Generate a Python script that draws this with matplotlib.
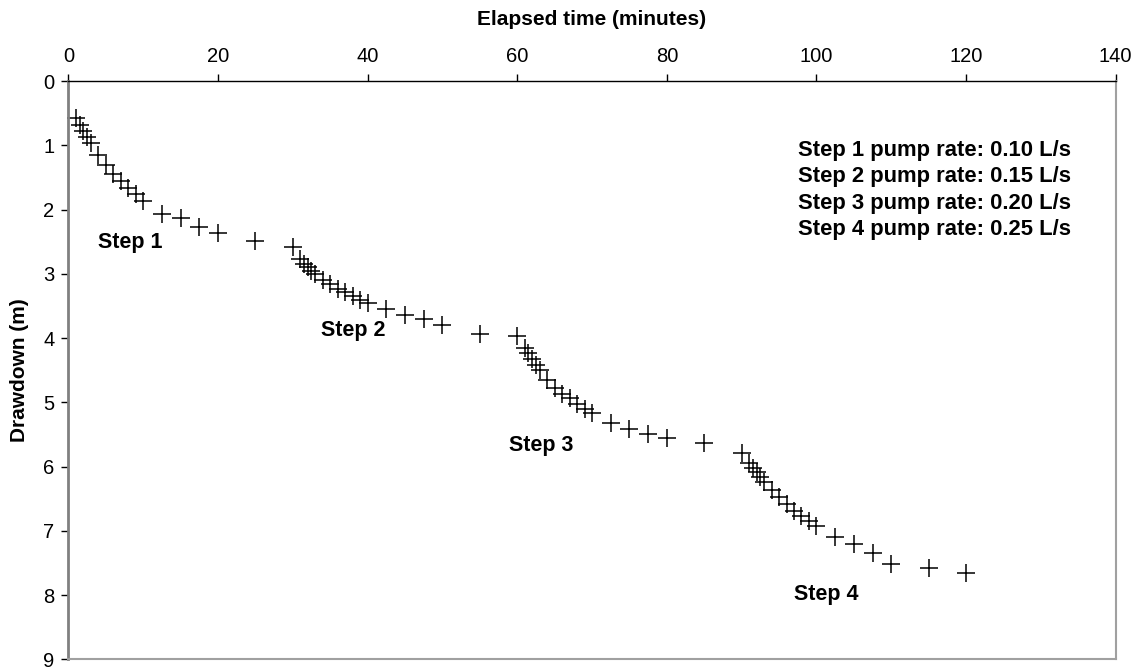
import matplotlib
matplotlib.use("Agg")
import matplotlib.pyplot as plt

plt.rcParams['font.family'] = ['Liberation Sans', 'DejaVu Sans']

# Elapsed time (minutes)
time_min = [1, 1.5, 2, 2.5, 3, 4, 5, 6, 7, 8, 9, 10, 12.5, 15, 17.5, 20, 25, 30,
            31, 31.5, 32, 32.5, 33, 34, 35, 36, 37, 38, 39, 40, 42.5, 45, 47.5, 50, 55, 60,
            61, 61.5, 62, 62.5, 63, 64, 65, 66, 67, 68, 69, 70, 72.5, 75, 77.5, 80, 85, 90,
            91, 91.5, 92, 92.5, 93, 94, 95, 96, 97, 98, 99, 100, 102.5, 105, 107.5, 110, 115, 120]
# Drawdown (m)
drawdown_m = [0.58, 0.68, 0.78, 0.87, 0.97, 1.15, 1.30, 1.45, 1.56, 1.66, 1.76, 1.87, 2.07, 2.13, 2.27, 2.36, 2.49, 2.59,
              2.77, 2.84, 2.90, 2.95, 3.01, 3.09, 3.16, 3.23, 3.29, 3.35, 3.41, 3.46, 3.55, 3.64, 3.71, 3.79, 3.93, 3.97,
              4.16, 4.24, 4.32, 4.42, 4.50, 4.65, 4.78, 4.87, 4.94, 5.02, 5.10, 5.16, 5.33, 5.41, 5.49, 5.56, 5.64, 5.79,
              5.95, 6.02, 6.09, 6.17, 6.24, 6.36, 6.47, 6.58, 6.69, 6.77, 6.85, 6.93, 7.09, 7.21, 7.34, 7.51, 7.58, 7.65]

step_labels = ["Step 1", "Step 2", "Step 3", "Step 4"]
step_label_x = [8.3, 38.1, 63.2, 101.3]
step_label_y = [2.51, 3.88, 5.67, 7.99]

rate_lines = ["Step 1 pump rate: 0.10 L/s", "Step 2 pump rate: 0.15 L/s",
              "Step 3 pump rate: 0.20 L/s", "Step 4 pump rate: 0.25 L/s"]
rate_y = [1.08, 1.49, 1.90, 2.31]

x_ticks = [0, 20, 40, 60, 80, 100, 120, 140]
y_ticks = [0, 1, 2, 3, 4, 5, 6, 7, 8, 9]

fig = plt.figure(figsize=(11.35, 6.7), dpi=100)
ax = fig.add_axes([0.0602, 0.016, 0.9228, 0.863])

ax.plot(time_min, drawdown_m, linestyle='none', marker='+', markersize=13.5,
        markeredgewidth=1.1, color='black', clip_on=False)

ax.set_xlim(0, 140)
ax.set_ylim(9, 0)
ax.xaxis.tick_top()
ax.xaxis.set_label_position('top')
ax.set_xticks(x_ticks)
ax.set_yticks(y_ticks)
ax.tick_params(axis='both', labelsize=14.5, direction='out', length=5, width=1, colors='black')
ax.tick_params(axis='x', pad=6)
ax.tick_params(axis='y', pad=5)
ax.set_xlabel("Elapsed time (minutes)", fontsize=15, fontweight='bold', labelpad=16)
ax.set_ylabel("Drawdown (m)", fontsize=15, fontweight='bold', labelpad=10)

ax.spines['top'].set_color('black')
ax.spines['top'].set_linewidth(1.0)
ax.spines['left'].set_color('#808080')
ax.spines['left'].set_linewidth(2.0)
ax.spines['right'].set_color('#a0a0a0')
ax.spines['right'].set_linewidth(1.5)
ax.spines['bottom'].set_color('#a0a0a0')
ax.spines['bottom'].set_linewidth(1.5)

for lbl, x, y in zip(step_labels, step_label_x, step_label_y):
    ax.text(x, y, lbl, fontsize=15.5, fontweight='bold', ha='center', va='center')

for line, y in zip(rate_lines, rate_y):
    ax.text(97.6, y, line, fontsize=15.8, fontweight='bold', ha='left', va='center')

fig.savefig("out.png", dpi=100)
